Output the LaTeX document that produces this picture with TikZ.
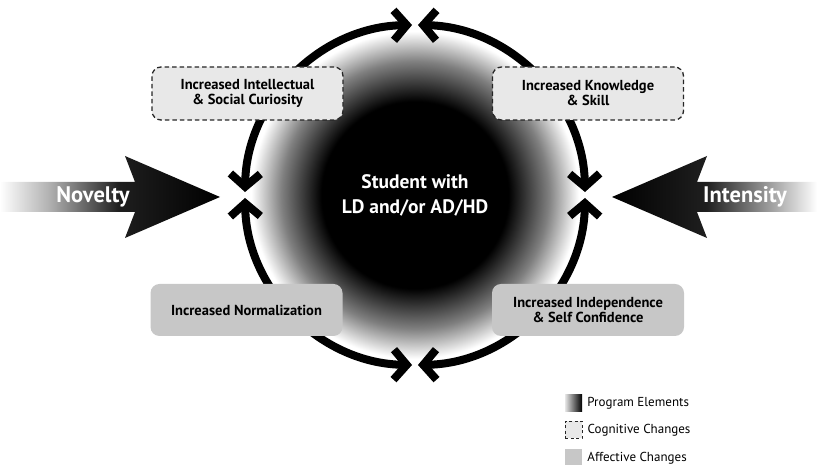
\documentclass[tikz,border=0pt]{standalone}
\usepackage{fontspec}
\setmainfont{PT Sans}
\usetikzlibrary{arrows.meta,positioning}

\pgfdeclareradialshading{discshade}{\pgfpoint{0bp}{0bp}}{color(0bp)=(black); color(14bp)=(black); color(20bp)=(black!50); color(24.5bp)=(white); color(25bp)=(white); color(50bp)=(white)}
\pgfdeclarehorizontalshading{novshade}{100bp}{color(0bp)=(white); color(25bp)=(white); color(36bp)=(black!30); color(52bp)=(black!88); color(75bp)=(black); color(100bp)=(black)}
\pgfdeclarehorizontalshading{intshade}{100bp}{color(0bp)=(black); color(25bp)=(black); color(48bp)=(black!88); color(66bp)=(black!30); color(75bp)=(white); color(100bp)=(white)}

\begin{document}
\begin{tikzpicture}[x=1pt, y=1pt,
  ring/.style={line width=8pt, {Straight Barb[length=13pt,width=30pt]}-{Straight Barb[length=13pt,width=30pt]}},
  cogbox/.style={draw=black!85, fill=black!9, line width=1.3pt, dash pattern=on 4.5pt off 3pt, rounded corners=9pt, minimum width=191pt, minimum height=53pt, align=center, font=\bfseries\fontsize{14.5}{15}\selectfont},
  affbox/.style={fill=black!22, rounded corners=9pt, minimum width=192pt, minimum height=52pt, align=center, font=\bfseries\fontsize{14.5}{15}\selectfont},
  keybox/.style={minimum size=17pt, inner sep=0pt},
  key/.style={anchor=west, inner sep=0pt, font=\fontsize{13}{15}\selectfont},
  bigword/.style={text=white, font=\bfseries\fontsize{22.5}{24}\selectfont}]
\useasboundingbox (0,0) rectangle (817,465);

\node[circle, minimum size=334pt, shade, shading=discshade, text=white, align=center, font=\bfseries\fontsize{19.5}{25}\selectfont] (S) at (415,270) {Student with\\LD and/or AD/HD};

\coordinate (Lt) at ([shift={(179:170)}]S.center);
\coordinate (Rt) at ([shift={(1:170)}]S.center);
\coordinate (Lb) at ([shift={(181:170)}]S.center);
\coordinate (Rb) at ([shift={(359:170)}]S.center);
\draw[ring] (Lt) arc[start angle=179, end angle=91, radius=170];
\draw[ring] (Rt) arc[start angle=1, end angle=89, radius=170];
\draw[ring] (Lb) arc[start angle=181, end angle=269, radius=170];
\draw[ring] (Rb) arc[start angle=359, end angle=271, radius=170];

\node[cogbox] (IC) at (247.5,371.5) {Increased Intellectual\\\& Social Curiosity};
\node[cogbox] (KS) at (588,371.5) {Increased Knowledge\\\& Skill};
\node[affbox] (NO) at (246.5,155) {Increased Normalization};
\node[affbox] (IS) at (588,155) {Increased Independence\\\& Self Confidence};

\shade[shading=novshade] (0,253) -- (135,253) -- (125,227) -- (220,268) -- (125,309) -- (135,283) -- (0,283) -- cycle;
\shade[shading=intshade] (817,253) -- (697,253) -- (707,227) -- (612,268) -- (707,309) -- (697,283) -- (817,283) -- cycle;
\node[bigword] (N) at (93,268) {Novelty};
\node[bigword] (I) at (745,268) {Intensity};

\node[keybox, left color=black!10, right color=black] (P) at (573.5,61.5) {};
\node[keybox, draw=black!85, fill=black!9, line width=1pt, dash pattern=on 3pt off 2.5pt] (C) at (573.5,35) {};
\node[keybox, fill=black!22] (A) at (573.5,7) {};
\node[key, right=5pt of P] (Pt) {Program Elements};
\node[key, right=5pt of C] (Ct) {Cognitive Changes};
\node[key, right=5pt of A] (At) {Affective Changes};
\end{tikzpicture}
\end{document}
